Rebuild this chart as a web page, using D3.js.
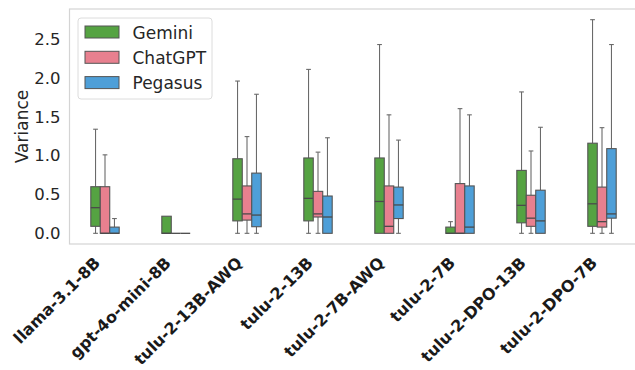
<!DOCTYPE html>
<meta charset="utf-8">
<script src="https://d3js.org/d3.v7.min.js"></script>
<style>
  body { margin: 0; background: #fff; }
  text { font-family: "DejaVu Sans", sans-serif; }
</style>
<div id="my_dataviz"></div>
<script>

// categories and series
var models = ["llama-3.1-8B", "gpt-4o-mini-8B", "tulu-2-13B-AWQ", "tulu-2-13B",
              "tulu-2-7B-AWQ", "tulu-2-7B", "tulu-2-DPO-13B", "tulu-2-DPO-7B"];
var systems = ["Gemini", "ChatGPT", "Pegasus"];
var colors = ["#55a342", "#e8808f", "#4e9fd8"];

// box stats per model: [whisker low, q1, median, q3, whisker high]
var gemini = [
  [0, 0.09, 0.33, 0.60, 1.34],
  [0, 0, 0, 0.22, 0.22],
  [0, 0.16, 0.44, 0.96, 1.96],
  [0, 0.16, 0.45, 0.97, 2.11],
  [0, 0, 0.41, 0.97, 2.43],
  [0, 0, 0, 0.08, 0.15],
  [0, 0.135, 0.36, 0.81, 1.82],
  [0, 0.09, 0.38, 1.16, 2.75]
];
var chatgpt = [
  [0, 0, 0, 0.60, 1.01],
  [0, 0, 0, 0, 0],
  [0, 0.17, 0.25, 0.61, 1.245],
  [0, 0.21, 0.25, 0.54, 1.045],
  [0, 0, 0.09, 0.61, 1.525],
  [0, 0, 0, 0.64, 1.605],
  [0, 0.09, 0.195, 0.49, 1.06],
  [0, 0.08, 0.15, 0.595, 1.36]
];
var pegasus = [
  [0, 0, 0, 0.08, 0.19],
  [0, 0, 0, 0, 0],
  [0, 0.085, 0.235, 0.775, 1.79],
  [0, 0, 0.21, 0.48, 1.23],
  [0, 0.19, 0.365, 0.595, 1.20],
  [0, 0, 0.08, 0.61, 1.525],
  [0, 0, 0.16, 0.555, 1.365],
  [0, 0.195, 0.25, 1.09, 2.43]
];
var yTicks = [0, 0.5, 1.0, 1.5, 2.0, 2.5];

var series = [gemini, chatgpt, pegasus];

var width = 635, height = 370;
var margin = {top: 9, right: -2.5, bottom: 126, left: 69.5};
var plotW = width - margin.left - margin.right,
    plotH = height - margin.top - margin.bottom;

var svg = d3.select("#my_dataviz")
  .append("svg")
    .attr("width", width)
    .attr("height", height);

var g = svg.append("g")
  .attr("transform", "translate(" + margin.left + "," + margin.top + ")");

var x = d3.scaleBand().domain(models).range([0, plotW]);
var xs = d3.scaleBand().domain(systems).range([0, x.bandwidth() * 0.4]);
var off = (x.bandwidth() - xs.range()[1]) / 2;
var y = d3.scaleLinear().domain([-0.1375, 2.8875]).range([plotH, 0]);

// frame
g.append("rect")
  .attr("x", 0).attr("y", 0)
  .attr("width", plotW).attr("height", plotH)
  .attr("fill", "none")
  .attr("stroke", "#d4d4d4")
  .attr("stroke-width", 1.2);

// y axis
var yAxis = g.append("g")
  .call(d3.axisLeft(y).tickValues(yTicks).tickFormat(d3.format(".1f")).tickSize(0).tickPadding(9));
yAxis.select(".domain").remove();
yAxis.selectAll("text")
  .attr("font-size", 16.5)
  .attr("fill", "#262626")
  .attr("font-family", "DejaVu Sans");

svg.append("text")
  .attr("transform", "translate(28," + (margin.top + plotH / 2) + ") rotate(-90)")
  .attr("text-anchor", "middle")
  .attr("font-size", 17)
  .attr("fill", "#262626")
  .text("Variance");

// x labels
g.selectAll(".xlab")
  .data(models)
  .enter()
  .append("text")
  .attr("class", "xlab")
  .attr("transform", function(d) {
    return "translate(" + (x(d) + x.bandwidth() / 2 - 4) + "," + (plotH + 20) + ") rotate(-45)";
  })
  .attr("text-anchor", "end")
  .attr("font-size", 16)
  .attr("font-weight", "bold")
  .attr("fill", "#1a1a1a")
  .text(function(d) { return d; });

// boxes
var bw = xs.bandwidth();
series.forEach(function(data, si) {
  var sg = g.append("g");
  var items = sg.selectAll("g")
    .data(data)
    .enter()
    .append("g")
    .attr("transform", function(d, i) {
      return "translate(" + (x(models[i]) + off + xs(systems[si])) + ",0)";
    });

  // whiskers
  items.append("line")
    .attr("x1", bw / 2).attr("x2", bw / 2)
    .attr("y1", function(d) { return y(d[4]); })
    .attr("y2", function(d) { return y(d[3]); })
    .attr("stroke", "#6a6a6a").attr("stroke-width", 1.1);
  items.append("line")
    .attr("x1", bw / 2).attr("x2", bw / 2)
    .attr("y1", function(d) { return y(d[1]); })
    .attr("y2", function(d) { return y(d[0]); })
    .attr("stroke", "#6a6a6a").attr("stroke-width", 1.1);
  // caps
  items.filter(function(d) { return d[4] > d[3]; })
    .append("line")
    .attr("x1", bw / 4).attr("x2", bw * 3 / 4)
    .attr("y1", function(d) { return y(d[4]); })
    .attr("y2", function(d) { return y(d[4]); })
    .attr("stroke", "#6a6a6a").attr("stroke-width", 1.1);
  items.filter(function(d) { return d[1] > d[0]; })
    .append("line")
    .attr("x1", bw / 4).attr("x2", bw * 3 / 4)
    .attr("y1", function(d) { return y(d[0]); })
    .attr("y2", function(d) { return y(d[0]); })
    .attr("stroke", "#6a6a6a").attr("stroke-width", 1.1);

  // box
  items.append("rect")
    .attr("x", 0)
    .attr("width", bw)
    .attr("y", function(d) { return y(d[3]); })
    .attr("height", function(d) { return y(d[1]) - y(d[3]); })
    .attr("fill", colors[si])
    .attr("stroke", "#555")
    .attr("stroke-width", 1.1);

  // median
  items.append("line")
    .attr("x1", 0).attr("x2", bw)
    .attr("y1", function(d) { return y(d[2]); })
    .attr("y2", function(d) { return y(d[2]); })
    .attr("stroke", "#4a4a4a").attr("stroke-width", 1.3);
});

// legend
var lg = svg.append("g").attr("transform", "translate(78,18)");
lg.append("rect")
  .attr("width", 134).attr("height", 81)
  .attr("rx", 3)
  .attr("fill", "#fff")
  .attr("fill-opacity", 0.8)
  .attr("stroke", "#dcdcdc");
var li = lg.selectAll(".li")
  .data(systems)
  .enter()
  .append("g")
  .attr("transform", function(d, i) { return "translate(7," + (8 + i * 25.3) + ")"; });
li.append("rect")
  .attr("width", 34).attr("height", 12)
  .attr("fill", function(d, i) { return colors[i]; })
  .attr("stroke", "#555")
  .attr("stroke-width", 1);
li.append("text")
  .attr("x", 47.5).attr("y", 12.5)
  .attr("font-size", 17)
  .attr("fill", "#262626")
  .text(function(d) { return d; });

</script>
